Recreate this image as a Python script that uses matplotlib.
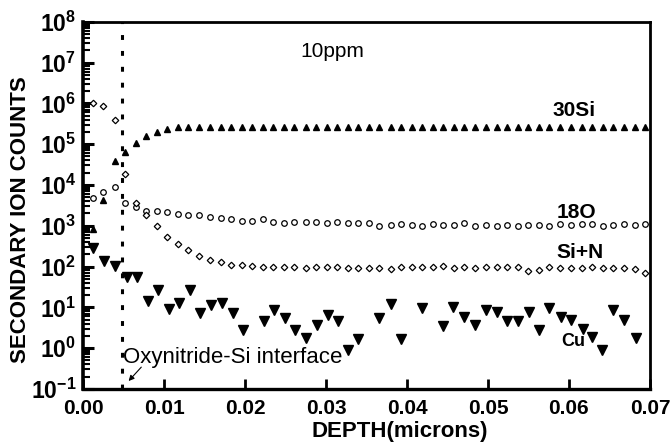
import numpy as np
import matplotlib.pyplot as plt
from matplotlib.ticker import LogLocator, FixedLocator, FuncFormatter, NullFormatter

plt.rcParams['font.family'] = ['Liberation Sans', 'DejaVu Sans']
plt.rcParams['mathtext.fontset'] = 'custom'
plt.rcParams['mathtext.rm'] = 'Liberation Sans'
plt.rcParams['mathtext.bf'] = 'Liberation Sans:bold'

# depth grid shared by the 30Si, 18O and Si+N profiles (microns)
depth = [0.0012, 0.0025, 0.0039, 0.0052, 0.0065, 0.0078, 0.0091, 0.0104, 0.0117, 0.0130,
         0.0143, 0.0157, 0.0170, 0.0183, 0.0196, 0.0209, 0.0222, 0.0235, 0.0248, 0.0261,
         0.0275, 0.0288, 0.0301, 0.0314, 0.0327, 0.0340, 0.0353, 0.0366, 0.0380, 0.0393,
         0.0406, 0.0419, 0.0432, 0.0445, 0.0458, 0.0471, 0.0484, 0.0498, 0.0511, 0.0524,
         0.0537, 0.0550, 0.0563, 0.0576, 0.0589, 0.0602, 0.0616, 0.0629, 0.0642, 0.0655,
         0.0668, 0.0681, 0.0694]

si30 = [810, 4300, 39000, 63000, 105000, 160000, 200000, 240000, 260000, 270000,
        270000, 270000, 270000, 270000, 270000, 270000, 270000, 270000, 270000, 270000,
        270000, 270000, 270000, 270000, 270000, 270000, 270000, 270000, 270000, 270000,
        270000, 270000, 270000, 270000, 270000, 270000, 270000, 270000, 270000, 270000,
        270000, 270000, 270000, 270000, 270000, 270000, 270000, 270000, 270000, 270000,
        270000, 270000, 270000]

o18 = [4700, 6600, 8900, 3700, 2800, 2300, 2250, 2200, 1950, 1800,
       1800, 1670, 1550, 1500, 1300, 1300, 1500, 1250, 1200, 1250,
       1250, 1250, 1200, 1250, 1200, 1200, 1200, 1000, 1050, 1100,
       1050, 1000, 1100, 1050, 1050, 1150, 1000, 1050, 1000, 1050,
       1000, 1050, 1050, 1000, 1100, 1050, 1100, 1100, 1000, 1050,
       1100, 1050, 1100]

sin = [1.0e6, 8.8e5, 3.9e5, 1.9e4, 3700, 1800, 960, 515, 350, 250,
       180, 145, 130, 110, 110, 105, 100, 100, 95, 100,
       90, 95, 95, 100, 90, 92, 92, 90, 88, 95,
       95, 95, 100, 105, 90, 95, 90, 95, 95, 95,
       100, 78, 82, 95, 92, 90, 90, 95, 90, 90,
       90, 88, 70]

# Cu profile has its own depths (some points fall below the axis)
cu_depth = [0.0012, 0.0026, 0.0040, 0.0054, 0.0067, 0.0080, 0.0093, 0.0106, 0.0119, 0.0132,
            0.0145, 0.0158, 0.0171, 0.0185, 0.0197, 0.0224, 0.0236, 0.0249, 0.0262, 0.0275,
            0.0289, 0.0302, 0.0315, 0.0327, 0.0340, 0.0366, 0.0380, 0.0393, 0.0419, 0.0445,
            0.0457, 0.0471, 0.0484, 0.0498, 0.0511, 0.0524, 0.0537, 0.0551, 0.0563, 0.0575,
            0.0590, 0.0603, 0.0617, 0.0629, 0.0641, 0.0655, 0.0668, 0.0683]
cu = [280, 140, 105, 55, 55, 14, 27, 9, 13, 26,
      7.4, 11.5, 13, 7.4, 2.8, 4.5, 8.5, 5.6, 2.8, 1.8,
      3.7, 6.5, 4.5, 0.9, 1.7, 5.4, 12, 1.7, 9.4, 3.5,
      10, 5.7, 3.7, 8.5, 7.7, 4.6, 4.6, 7.7, 2.8, 9.4,
      5.9, 4.9, 2.9, 1.9, 0.9, 8.5, 4.9, 1.8]

y_decades = [-1, 0, 1, 2, 3, 4, 5, 6, 7, 8]
interface_depth = 0.0048

fig = plt.figure(figsize=(6.7, 4.43), dpi=100)
ax = fig.add_axes([0.124, 0.122, 0.846, 0.829])

ax.plot(depth, si30, '^', color='black', markersize=5, linestyle='none')
ax.plot(depth, o18, 'o', mfc='white', mec='black', mew=0.9, markersize=4, linestyle='none')
ax.plot(depth, sin, 'D', mfc='white', mec='black', mew=0.9, markersize=3.3, linestyle='none')
ax.plot(cu_depth, cu, 'v', color='black', markersize=7.5, linestyle='none')

ax.axvline(interface_depth, color='black', lw=2.2, linestyle=(0, (1.6, 3.6)))

ax.set_yscale('log')
ax.set_xlim(0, 0.07)
ax.set_ylim(1e-1, 1e8)
ax.set_xticks([0.0, 0.01, 0.02, 0.03, 0.04, 0.05, 0.06, 0.07])
ax.set_xticklabels(['0.00', '0.01', '0.02', '0.03', '0.04', '0.05', '0.06', '0.07'])
ax.yaxis.set_major_locator(FixedLocator([10.0 ** d for d in y_decades]))
ax.yaxis.set_minor_locator(LogLocator(base=10, subs=np.arange(2, 10), numticks=20))
ax.yaxis.set_major_formatter(FuncFormatter(lambda v, p: r'$\mathbf{10^{%d}}$' % round(np.log10(v))))
ax.yaxis.set_minor_formatter(NullFormatter())

ax.tick_params(axis='x', which='major', direction='in', length=7, width=2, pad=7, labelsize=15)
ax.tick_params(axis='y', which='major', direction='in', length=8, width=2.2, pad=5, labelsize=16.5)
ax.tick_params(axis='y', which='minor', direction='in', length=5, width=1.5)
for lab in ax.get_xticklabels():
    lab.set_fontweight('bold')
for s in ax.spines.values():
    s.set_linewidth(2)
ax.spines['left'].set_linewidth(2.6)
ax.spines['bottom'].set_linewidth(2.4)

fig.text(400 / 670, 1 - 432 / 443, 'DEPTH(microns)', ha='center', va='center',
         fontsize=16, fontweight='bold')
fig.text(21 / 670, 1 - 220 / 443, 'SECONDARY ION COUNTS', ha='center', va='center',
         rotation=90, fontsize=16, fontweight='bold')

ax.text(0.439, 0.918, '10ppm', transform=ax.transAxes, ha='center', va='center', fontsize=15)
ax.text(0.866, 0.757, '30Si', transform=ax.transAxes, ha='center', va='center',
        fontsize=15, fontweight='bold')
ax.text(0.870, 0.480, '18O', transform=ax.transAxes, ha='center', va='center',
        fontsize=15, fontweight='bold')
ax.text(0.877, 0.371, 'Si+N', transform=ax.transAxes, ha='center', va='center',
        fontsize=15, fontweight='bold')
ax.text(0.864, 0.128, 'Cu', transform=ax.transAxes, ha='center', va='center',
        fontsize=13, fontweight='bold')
ax.text(0.0705, 0.087, 'Oxynitride-Si interface', transform=ax.transAxes, ha='left', va='center',
        fontsize=16)
ax.annotate('', xy=(0.077, 0.016), xytext=(0.106, 0.065),
            xycoords='axes fraction', textcoords='axes fraction',
            arrowprops=dict(arrowstyle='-|>', color='black', lw=0.8, mutation_scale=8))

fig.savefig('out.png', dpi=100)
